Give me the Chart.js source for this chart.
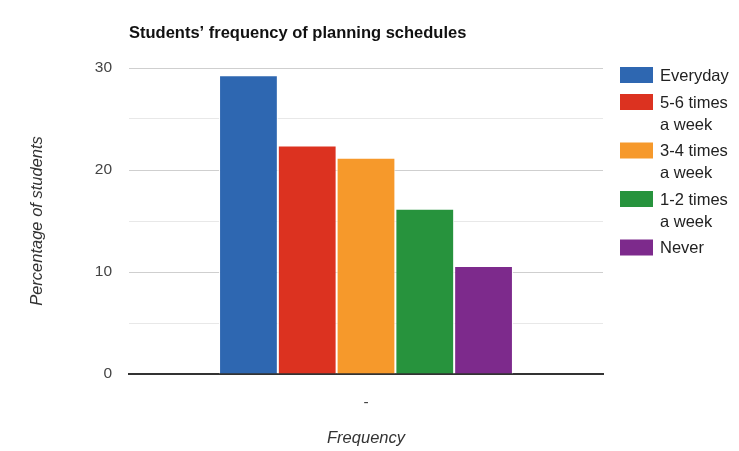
<!DOCTYPE html>
<html>
<head>
<meta charset="utf-8">
<script src="https://cdn.jsdelivr.net/npm/chart.js@4.4.0/dist/chart.umd.min.js"></script>
<style>
  body { margin: 0; background: #fff; }
  #wrap { width: 739px; height: 451px; position: relative; }
</style>
</head>
<body>
<div id="wrap"><canvas id="planningChart"></canvas></div>
<script>
// data
const categories = ['-'];
const seriesNames = ['Everyday', '5-6 times a week', '3-4 times a week', '1-2 times a week', 'Never'];
const seriesValues = [29.3, 22.4, 21.2, 16.2, 10.6];
const yTickLabels = [0, 10, 20, 30];
const chartTitle = 'Students\u2019 frequency of planning schedules';

const barColors = ['#2e67b1', '#dc3220', '#f6992b', '#27933d', '#7d2a8c'];
const FONT = '"Liberation Sans", Arial, sans-serif';

// title above the plot, lined up with the left edge of the chart area
const titlePlugin = {
    id: 'leftTitle',
    afterDraw(chart) {
        const ctx = chart.ctx;
        ctx.save();
        ctx.font = 'bold 16.5px ' + FONT;
        ctx.fillStyle = '#111';
        ctx.textBaseline = 'middle';
        ctx.fillText(chartTitle, chart.chartArea.left, 33);
        ctx.restore();
    }
};

// legend on the right with word-wrapped labels
const sideLegend = {
    id: 'sideLegend',
    afterDraw(chart) {
        const ctx = chart.ctx;
        const x = chart.chartArea.right + 17;
        let y = 67;
        ctx.save();
        ctx.font = '16.5px ' + FONT;
        ctx.textBaseline = 'middle';
        chart.data.datasets.forEach((ds) => {
            const words = ds.label.split(' ');
            const lines = [];
            let line = '';
            words.forEach((w) => {
                const test = line ? line + ' ' + w : w;
                if (line && ctx.measureText(test).width > 74) {
                    lines.push(line);
                    line = w;
                } else {
                    line = test;
                }
            });
            lines.push(line);

            ctx.fillStyle = ds.backgroundColor;
            ctx.fillRect(x, y, 33, 16);
            ctx.fillStyle = '#222';
            lines.forEach((l, i) => {
                ctx.fillText(l, x + 40, y + 9 + i * 22);
            });
            y += 27 + (lines.length - 1) * 21.5;
        });
        ctx.restore();
    }
};

const datasets = seriesNames.map((name, i) => ({
    label: name,
    data: [seriesValues[i]],
    backgroundColor: barColors[i],
    borderColor: '#ffffff',
    borderWidth: 1,
    barPercentage: 1,
    categoryPercentage: 0.62
}));

const ctx = document.getElementById('planningChart').getContext('2d');

new Chart(ctx, {
    type: 'bar',
    data: {
        labels: categories,
        datasets: datasets
    },
    options: {
        responsive: true,
        maintainAspectRatio: false,
        animation: false,
        layout: {
            padding: { left: 20, right: 136, top: 68, bottom: 0 }
        },
        plugins: {
            legend: { display: false },
            tooltip: { enabled: false }
        },
        scales: {
            x: {
                grid: { display: false },
                border: { display: true, color: '#333', width: 2 },
                ticks: { color: '#444', font: { family: FONT, size: 15.5 }, padding: 11 },
                title: {
                    display: true,
                    text: 'Frequency',
                    color: '#333',
                    font: { family: FONT, size: 16.5, style: 'italic' },
                    padding: { top: 0, bottom: 3 }
                },
                afterFit: (s) => { s.height = 77; }
            },
            y: {
                min: 0,
                max: 30,
                border: { display: false },
                grid: {
                    drawTicks: false,
                    color: (c) => (c.tick && c.tick.value % 10 === 0) ? '#cfcfcf' : '#e8e8e8',
                    lineWidth: 1
                },
                ticks: {
                    stepSize: 5,
                    color: '#444',
                    font: { family: FONT, size: 15.5 },
                    padding: 17,
                    callback: (v) => yTickLabels.includes(v) ? String(v) : ''
                },
                title: {
                    display: true,
                    text: 'Percentage of students',
                    color: '#333',
                    font: { family: FONT, size: 16.5, style: 'italic' },
                    padding: { top: 8, bottom: 0 }
                },
                afterFit: (s) => { s.width = 109; }
            }
        }
    },
    plugins: [titlePlugin, sideLegend]
});
</script>
</body>
</html>
